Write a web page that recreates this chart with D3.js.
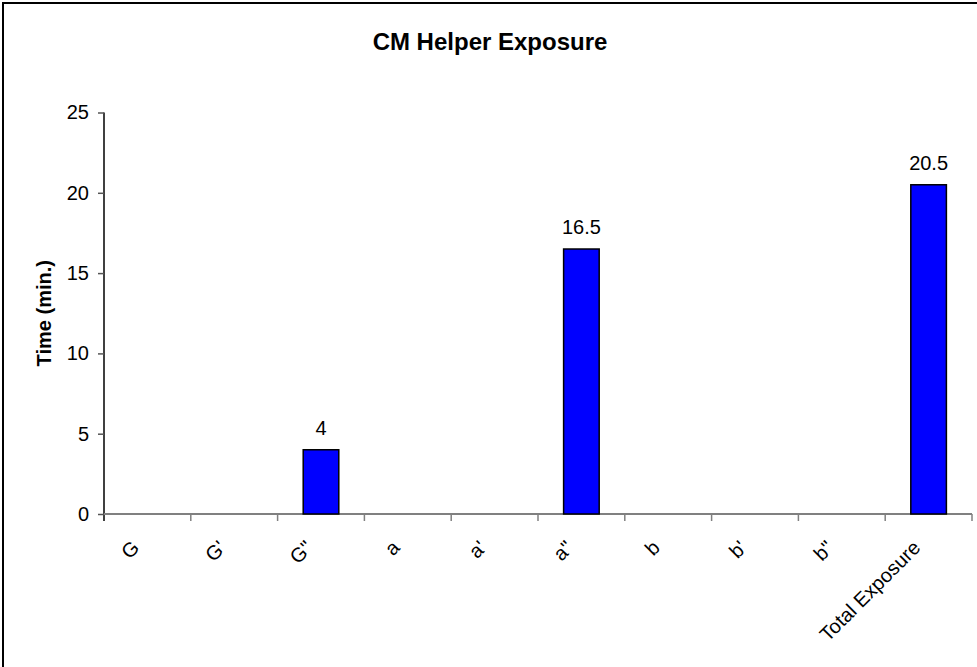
<!DOCTYPE html>
<html>
<head>
<meta charset="utf-8">
<script src="https://cdn.jsdelivr.net/npm/d3@7"></script>
<style>
  html, body { margin: 0; padding: 0; background: #fff; }
  svg { display: block; font-family: "Liberation Sans", Arial, sans-serif; }
</style>
</head>
<body>
<svg id="chart" width="977" height="667"></svg>
<script>
// ---- data ----
const categories = ["G", "G'", "G\"", "a", "a'", "a\"", "b", "b'", "b\"", "Total Exposure"];
const values = [0, 0, 4, 0, 0, 16.5, 0, 0, 0, 20.5];
const yTicks = [0, 5, 10, 15, 20, 25];
const chartTitle = "CM Helper Exposure";
const yTitle = "Time (min.)";

const svg = d3.select("#chart");
const W = 977, H = 667;

// chart border
svg.append("rect")
  .attr("x", 3).attr("y", 3)
  .attr("width", W + 20).attr("height", H + 20)
  .attr("fill", "#fff").attr("stroke", "#000").attr("stroke-width", 2);

const plot = { left: 104, right: 972, top: 112.5, bottom: 514 };

const x = d3.scaleBand()
  .domain(categories)
  .range([plot.left, plot.right])
  .paddingInner(0.59)
  .paddingOuter(0.295);

const y = d3.scaleLinear().domain([0, 25]).range([plot.bottom, plot.top]);

// title
svg.append("text")
  .attr("x", 490).attr("y", 50)
  .attr("text-anchor", "middle")
  .attr("font-weight", "bold")
  .attr("font-size", 24)
  .text(chartTitle);

// y axis title
svg.append("text")
  .attr("transform", `translate(51,${(plot.top + plot.bottom) / 2}) rotate(-90)`)
  .attr("text-anchor", "middle")
  .attr("font-weight", "bold")
  .attr("font-size", 20)
  .text(yTitle);

// y axis
const yAxis = svg.append("g")
  .attr("transform", `translate(${plot.left},0)`)
  .call(d3.axisLeft(y).tickValues(yTicks).tickSize(6).tickPadding(9).tickFormat(d3.format("d")));
yAxis.select(".domain").attr("stroke", "#000").attr("stroke-width", 1.5)
  .attr("d", `M0,${plot.top}V${plot.bottom + 7}`);
yAxis.selectAll(".tick line").attr("stroke", "#555").attr("stroke-width", 1.5);
yAxis.selectAll(".tick text").attr("font-size", 20).attr("fill", "#000")
  .attr("font-family", "Liberation Sans, Arial, sans-serif");

// x axis (category boundaries ticks)
const step = x.step();
const bounds = d3.range(categories.length + 1).map(i => plot.left + i * step);
const xAxisG = svg.append("g");
xAxisG.append("line")
  .attr("x1", plot.left).attr("x2", plot.right)
  .attr("y1", plot.bottom).attr("y2", plot.bottom)
  .attr("stroke", "#808080").attr("stroke-width", 2);
xAxisG.selectAll("line.tk").data(bounds.slice(1)).join("line")
  .attr("class", "tk")
  .attr("x1", d => d).attr("x2", d => d)
  .attr("y1", plot.bottom).attr("y2", plot.bottom + 7)
  .attr("stroke", "#808080").attr("stroke-width", 1.5);

// x labels
xAxisG.selectAll("text.xl").data(categories).join("text")
  .attr("class", "xl")
  .attr("transform", d => `translate(${x(d) + x.bandwidth() / 2 - 7},549) rotate(-45)`)
  .attr("text-anchor", "end")
  .attr("font-size", 20)
  .text(d => d);

// bars
svg.append("g").selectAll("rect").data(categories.map((c, i) => ({ c, v: values[i] })).filter(d => d.v > 0))
  .join("rect")
  .attr("x", d => x(d.c))
  .attr("y", d => y(d.v))
  .attr("width", x.bandwidth())
  .attr("height", d => y(0) - y(d.v))
  .attr("fill", "#0000ff")
  .attr("stroke", "#000").attr("stroke-width", 1.5);

// data labels
svg.append("g").selectAll("text").data(categories.map((c, i) => ({ c, v: values[i] })).filter(d => d.v > 0))
  .join("text")
  .attr("x", d => x(d.c) + x.bandwidth() / 2)
  .attr("y", d => y(d.v) - 15)
  .attr("text-anchor", "middle")
  .attr("font-size", 20)
  .text(d => d.v);
</script>
</body>
</html>
